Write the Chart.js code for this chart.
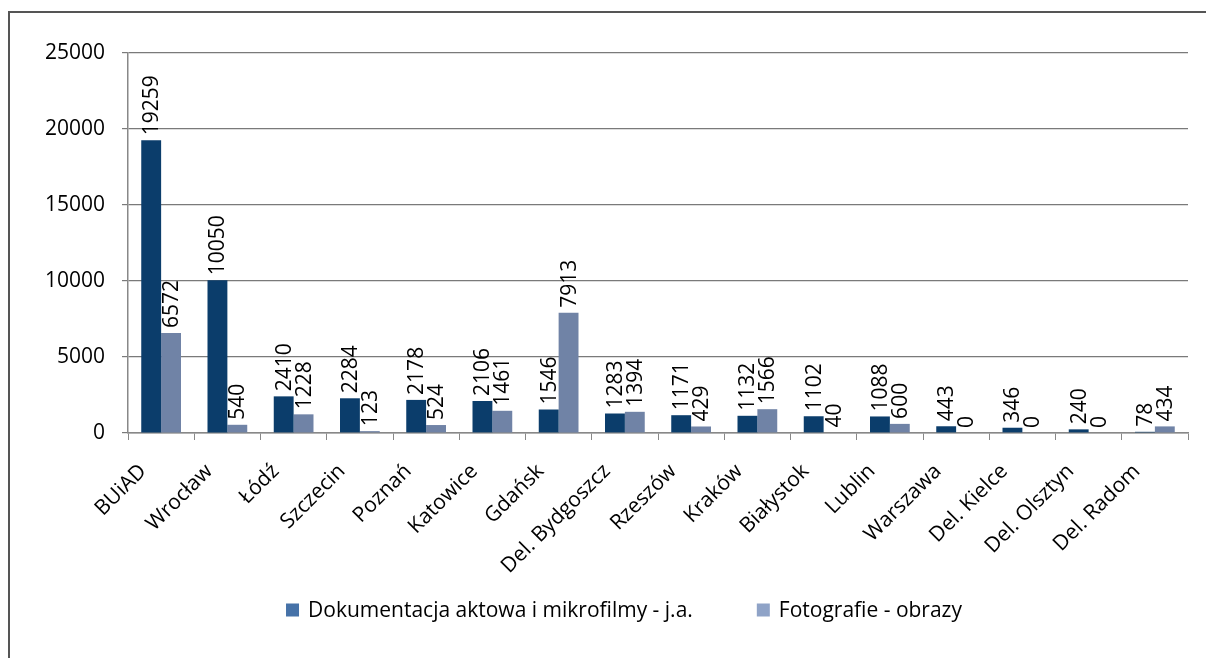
<!DOCTYPE html>
<html>
<head>
<meta charset="utf-8">
<script src="https://cdn.jsdelivr.net/npm/chart.js@4"></script>
<style>
  html, body { margin: 0; padding: 0; background: #fff; overflow: hidden; }
  #frame { position: absolute; left: 8px; top: 11px; width: 1300px; height: 700px; border: 2px solid #555; }
  #chart { position: absolute; left: 0; top: 0; }
</style>
</head>
<body>
<div id="frame"></div>
<canvas id="chart" width="1206" height="658"></canvas>
<script>
  const categories = ["BUiAD", "Wrocław", "Łódź", "Szczecin", "Poznań", "Katowice", "Gdańsk", "Del. Bydgoszcz",
    "Rzeszów", "Kraków", "Białystok", "Lublin", "Warszawa", "Del. Kielce", "Del. Olsztyn", "Del. Radom"];
  const aktaValues = [19259, 10050, 2410, 2284, 2178, 2106, 1546, 1283, 1171, 1132, 1102, 1088, 443, 346, 240, 78];
  const fotoValues = [6572, 540, 1228, 123, 524, 1461, 7913, 1394, 429, 1566, 40, 600, 0, 0, 0, 434];
  const seriesNames = ["Dokumentacja aktowa i mikrofilmy - j.a.", "Fotografie - obrazy"];
  const yTicks = [0, 5000, 10000, 15000, 20000, 25000];

  const FONT = "'Open Sans', sans-serif";
  const DARK = "#0b3d6b";
  const LIGHT = "#7083a6";
  const legendColors = ["#4672a8", "#8fa3c7"];

  // wartości nad słupkami, obrócone o 90 stopni
  const barLabels = {
    id: "barLabels",
    afterDatasetsDraw(chart) {
      const ctx = chart.ctx;
      ctx.save();
      ctx.font = "21px " + FONT;
      ctx.fillStyle = "#000";
      ctx.textAlign = "left";
      ctx.textBaseline = "middle";
      chart.data.datasets.forEach((ds, i) => {
        chart.getDatasetMeta(i).data.forEach((bar, j) => {
          ctx.save();
          ctx.translate(bar.x, bar.y - 5);
          ctx.rotate(-Math.PI / 2);
          ctx.fillText(String(ds.data[j]), 0, 1);
          ctx.restore();
        });
      });
      ctx.restore();
    },
  };

  // legenda rysowana ręcznie - większy odstęp między pozycjami niż w wbudowanej
  const legendBoxes = {
    id: "legendBoxes",
    afterDraw(chart) {
      const ctx = chart.ctx;
      const box = 13, gap = 9, itemGap = 64, centerX = 624, centerY = 611;
      ctx.save();
      ctx.font = "21px " + FONT;
      ctx.textAlign = "left";
      ctx.textBaseline = "middle";
      const items = chart.data.datasets.map((ds, i) => ({
        text: ds.label,
        color: legendColors[i],
        w: box + gap + ctx.measureText(ds.label).width,
      }));
      const total = items.reduce((s, it) => s + it.w, 0) + itemGap * (items.length - 1);
      let x = centerX - total / 2;
      items.forEach((it) => {
        ctx.fillStyle = it.color;
        ctx.fillRect(x, centerY - box / 2 - 1, box, box);
        ctx.fillStyle = "#000";
        ctx.fillText(it.text, x + box + gap, centerY);
        x += it.w + itemGap;
      });
      ctx.restore();
    },
  };

  new Chart(document.getElementById("chart").getContext("2d"), {
    type: "bar",
    data: {
      labels: categories,
      datasets: [
        { label: seriesNames[0], data: aktaValues, backgroundColor: DARK, borderWidth: 0 },
        { label: seriesNames[1], data: fotoValues, backgroundColor: LIGHT, borderWidth: 0 },
      ],
    },
    options: {
      responsive: false,
      animation: false,
      devicePixelRatio: 1,
      layout: { padding: { top: 53, right: 18, bottom: 0, left: 0 } },
      datasets: { bar: { categoryPercentage: 0.6, barPercentage: 1.0 } },
      plugins: {
        tooltip: { enabled: false },
        legend: { display: false },
      },
      scales: {
        x: {
          afterFit: (scale) => { scale.height = 225; },
          grid: { drawOnChartArea: false, drawTicks: true, tickLength: 7, color: "#888" },
          border: { color: "#888", width: 1.5 },
          ticks: {
            autoSkip: false, maxRotation: 45, minRotation: 45, padding: 19, labelOffset: -18,
            color: "#000", font: { family: FONT, size: 21 },
          },
        },
        y: {
          min: 0,
          max: 25000,
          afterFit: (scale) => { scale.width = 128; },
          afterBuildTicks: (scale) => { scale.ticks = yTicks.map((v) => ({ value: v })); },
          grid: { color: "#7a7a7a", lineWidth: 1.2, tickLength: 6 },
          border: { color: "#888", width: 1.5 },
          ticks: { padding: 17, color: "#000", font: { family: FONT, size: 21 }, callback: (v) => String(v) },
        },
      },
    },
    plugins: [barLabels, legendBoxes],
  });
</script>
</body>
</html>
